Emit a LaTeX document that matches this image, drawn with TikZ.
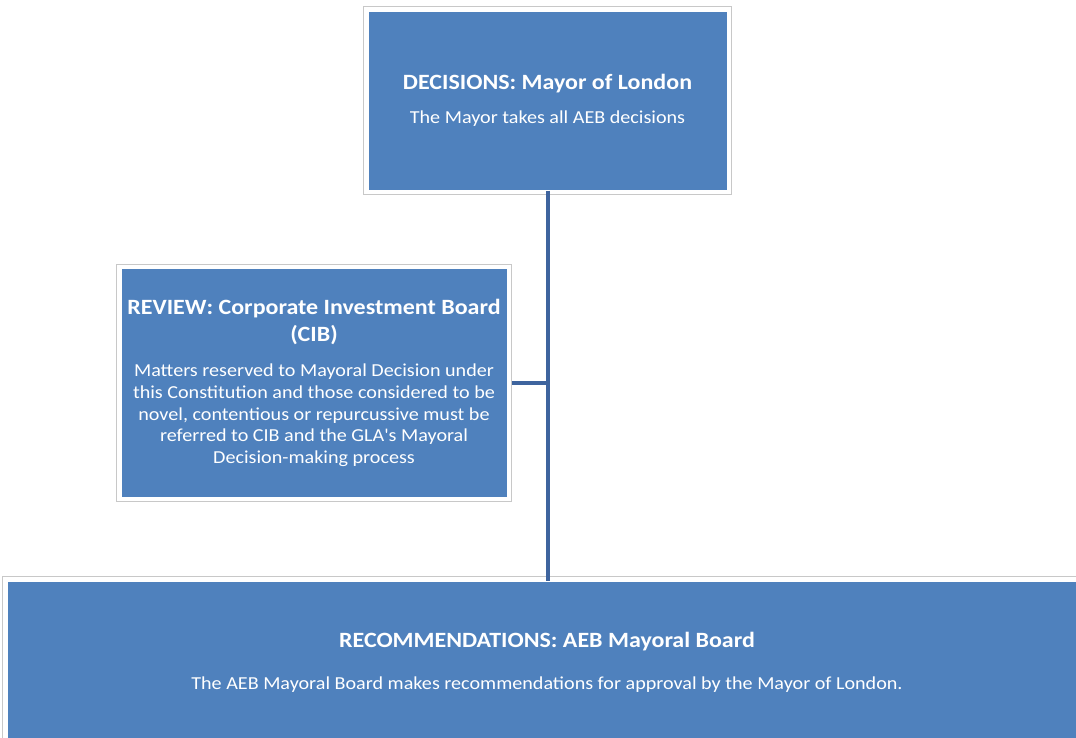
\documentclass[tikz,border=0pt]{standalone}
\usepackage{fontspec}
\setmainfont{Carlito}
\newfontfamily\widefam[FakeStretch=1.1]{Carlito}
\definecolor{boxblue}{RGB}{79,129,189}
\definecolor{connblue}{RGB}{62,100,158}
\definecolor{framegray}{RGB}{200,200,200}
\newcommand{\ttlfont}{\widefam\fontsize{21.8}{21.7}\selectfont\bfseries}
\newcommand{\bodyfont}{\widefam\fontsize{18.3}{21.7}\selectfont\mdseries}
\begin{document}
\begin{tikzpicture}[x=1pt,y=-1pt,
  box/.style={rectangle, fill=boxblue, draw=white, line width=3pt, text=white, align=center, inner sep=0pt, font=\bodyfont},
  frame/.style={draw=framegray, line width=0.9pt},
  conn/.style={draw=connblue, line width=4pt}]
\useasboundingbox (0,0) rectangle (1076,737);
\clip (0,0) rectangle (1076,737);
\node[box, minimum width=361pt, minimum height=181pt] (top) at (547.5,100.5)
  {\ttlfont DECISIONS: Mayor of London\\[12.3pt]
   \bodyfont The Mayor takes all AEB decisions};
\draw[frame] ([shift={(-1.6,-1.6)}]top.north west) rectangle ([shift={(1.6,1.6)}]top.south east);
\node[box, minimum width=388pt, minimum height=231pt] (review) at (314,383)
  {\ttlfont REVIEW: Corporate Investment Board\\[5.3pt]
   \ttlfont (CIB)\\[13.3pt]
   \bodyfont Matters reserved to Mayoral Decision under\\
   \bodyfont this Constitution and those considered to be\\
   \bodyfont novel, contentious or repurcussive must be\\
   \bodyfont referred to CIB and the GLA's Mayoral\\
   \bodyfont Decision-making process};
\draw[frame] ([shift={(-1.6,-1.6)}]review.north west) rectangle ([shift={(1.6,1.6)}]review.south east);
\node[box, minimum width=1082pt, minimum height=164pt] (bottom) at (547,662)
  {\ttlfont RECOMMENDATIONS: AEB Mayoral Board\\[20.3pt]
   \bodyfont The AEB Mayoral Board makes recommendations for approval by the Mayor of London.};
\draw[frame] ([shift={(-1.6,-1.6)}]bottom.north west) rectangle ([shift={(1.6,1.6)}]bottom.south east);
\draw[conn] ([yshift=2pt]top.south) -- ([yshift=-2pt]top.south |- bottom.north);
\draw[conn] ([xshift=2pt]review.east) -- (review.east -| top.south);
\end{tikzpicture}
\end{document}
